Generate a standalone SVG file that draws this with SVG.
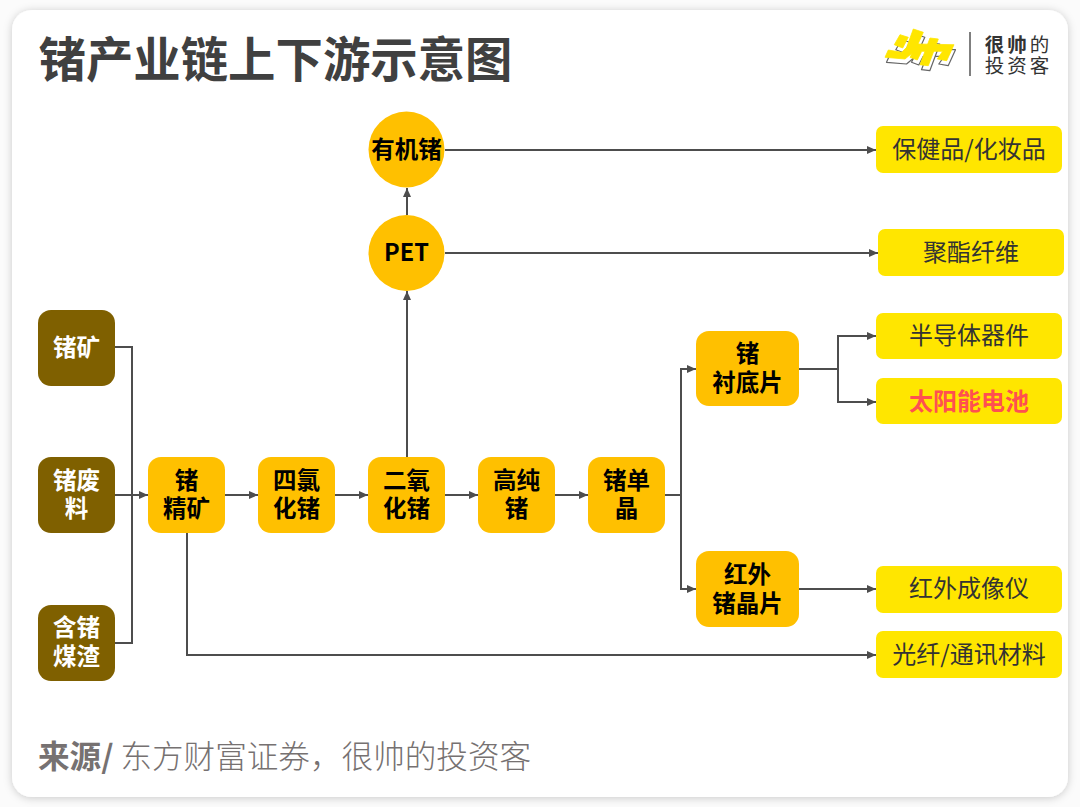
<svg xmlns="http://www.w3.org/2000/svg" width="1080" height="807" viewBox="0 0 1080 807">
<defs>
<marker id="arr" markerUnits="userSpaceOnUse" markerWidth="9" markerHeight="10" refX="9" refY="5" orient="auto"><path d="M0 1 L9 5 L0 9 Z" fill="#4d4d4d"/></marker>
<filter id="sh" x="-5%" y="-5%" width="110%" height="110%"><feDropShadow dx="0" dy="1" stdDeviation="4" flood-color="#000" flood-opacity="0.2"/></filter>
<g id="lg">
<path d="M900 34.700 L908.300 37.300 L902.700 48 L894.300 44.700 Z"/>
<path d="M913.300 29 L923.300 32.300 L915 50.700 L905 59 L885 57.300 L888.300 50 L901.700 52.300 L906.700 47.300 Z"/>
<path d="M916.700 44 L954 44.700 L946.700 60.700 L937.300 59 L942.700 51.300 L921.700 51.300 L917.300 60 L910 57.300 Z"/>
<path d="M930 38 L938.300 39 L928.300 65.700 L920 64.700 Z"/>
</g>
</defs>
<style>
text{font-family:"Noto Sans CJK SC","Noto Sans",sans-serif;text-anchor:middle}
.n{font-size:23.500px;font-weight:700;fill:#000}
.w{font-size:23.500px;font-weight:700;fill:#fff}
.p{font-size:24px;fill:#333}
.c{fill:none;stroke:#4d4d4d;stroke-width:2}
.a{marker-end:url(#arr)}
.or{fill:#ffc000}.br{fill:#7f6000}.ye{fill:#ffe600}
</style>
<rect width="1080" height="807" fill="#fbfbfb"/>
<rect x="12" y="10" width="1056" height="787" rx="20" fill="#fff" filter="url(#sh)"/>
<text id="title" x="275.500" y="77" style="font-size:47.400px;font-weight:700;fill:#404040">锗产业链上下游示意图</text>
<g id="logo">
<use href="#lg" transform="translate(1.500,5)" fill="#fff" stroke="#666" stroke-width="1.200" stroke-linejoin="round"/>
<use href="#lg" fill="#ffe600" stroke="#ffe600" stroke-width=".8" stroke-linejoin="round"/>
<path d="M970 32 V76" stroke="#555" stroke-width="1.500"/>
<text style="font-size:19.500px;fill:#333;letter-spacing:3px"><tspan x="1018.500" y="52"><tspan font-weight="700">很帅</tspan>的</tspan><tspan x="1018.500" y="73">投资客</tspan></text>
</g>
<g id="connectors">
<path class="c" d="M115 347 H132 V643 H115"/>
<path class="c a" d="M115 495 H148"/>
<path class="c a" d="M225 495 H258"/>
<path class="c a" d="M335 495 H368"/>
<path class="c a" d="M445 495 H478"/>
<path class="c a" d="M555 495 H588"/>
<path class="c a" d="M407 457 V291"/>
<path class="c a" d="M407 215 V188"/>
<path class="c a" d="M445 150 H876"/>
<path class="c a" d="M445 253 H878"/>
<path class="c a" d="M665 495 H681 V369 H696"/>
<path class="c a" d="M681 495 V589 H696"/>
<path class="c a" d="M799 369 H838 V336 H876"/>
<path class="c a" d="M838 369 V402 H876"/>
<path class="c a" d="M799 589 H876"/>
<path class="c a" d="M187 533 V655 H876"/>
</g>
<g id="n-kuang"><rect class="br" x="38" y="310" width="77" height="76" rx="13"/><text class="w" x="76.500" y="356">锗矿</text></g>
<g id="n-feiliao"><rect class="br" x="38" y="457" width="77" height="76" rx="13"/><text class="w"><tspan x="76.500" y="489">锗废</tspan><tspan x="76.500" y="517">料</tspan></text></g>
<g id="n-meizha"><rect class="br" x="38" y="605" width="77" height="76" rx="13"/><text class="w"><tspan x="76.500" y="636">含锗</tspan><tspan x="76.500" y="665">煤渣</tspan></text></g>
<g id="n-jingkuang"><rect class="or" x="148" y="457" width="77" height="76" rx="13"/><text class="n"><tspan x="186.500" y="489">锗</tspan><tspan x="186.500" y="517">精矿</tspan></text></g>
<g id="n-silv"><rect class="or" x="258" y="457" width="77" height="76" rx="13"/><text class="n"><tspan x="296.500" y="489">四氯</tspan><tspan x="296.500" y="517">化锗</tspan></text></g>
<g id="n-eryang"><rect class="or" x="368" y="457" width="77" height="76" rx="13"/><text class="n"><tspan x="406.500" y="489">二氧</tspan><tspan x="406.500" y="517">化锗</tspan></text></g>
<g id="n-gaochun"><rect class="or" x="478" y="457" width="77" height="76" rx="13"/><text class="n"><tspan x="516.500" y="489">高纯</tspan><tspan x="516.500" y="517">锗</tspan></text></g>
<g id="n-danjing"><rect class="or" x="588" y="457" width="77" height="76" rx="13"/><text class="n"><tspan x="626.500" y="489">锗单</tspan><tspan x="626.500" y="517">晶</tspan></text></g>
<g id="n-pet"><circle class="or" cx="406.500" cy="253" r="38"/><text class="n" x="406.500" y="261">PET</text></g>
<g id="n-youji"><circle class="or" cx="406.500" cy="149.500" r="38"/><text class="n" x="406.500" y="158">有机锗</text></g>
<g id="n-chendi"><rect class="or" x="696" y="331" width="103" height="75" rx="13"/><text class="n"><tspan x="747.500" y="362">锗</tspan><tspan x="747.500" y="391">衬底片</tspan></text></g>
<g id="n-hongwai"><rect class="or" x="696" y="551" width="103" height="76" rx="13"/><text class="n"><tspan x="747.500" y="583">红外</tspan><tspan x="747.500" y="612">锗晶片</tspan></text></g>
<g id="n-baojian"><rect class="ye" x="876" y="126" width="186" height="47" rx="7"/><text class="p" x="969" y="158">保健品/化妆品</text></g>
<g id="n-juzhi"><rect class="ye" x="878" y="229" width="186" height="47" rx="7"/><text class="p" x="971" y="261">聚酯纤维</text></g>
<g id="n-bandaoti"><rect class="ye" x="876" y="313" width="186" height="46" rx="7"/><text class="p" x="969" y="344">半导体器件</text></g>
<g id="n-taiyang"><rect class="ye" x="876" y="378" width="186" height="46" rx="7"/><text class="p" x="969" y="410" style="fill:#ff5050;font-weight:700">太阳能电池</text></g>
<g id="n-chengxiang"><rect class="ye" x="876" y="566" width="186" height="47" rx="7"/><text class="p" x="969" y="597">红外成像仪</text></g>
<g id="n-guangxian"><rect class="ye" x="876" y="631" width="186" height="47" rx="7"/><text class="p" x="969" y="663">光纤/通讯材料</text></g>
<text id="source" x="38" y="768" style="text-anchor:start;font-size:31.600px;fill:#767171;font-weight:300"><tspan font-weight="700">来源/</tspan> 东方财富证券，很帅的投资客</text>
</svg>
